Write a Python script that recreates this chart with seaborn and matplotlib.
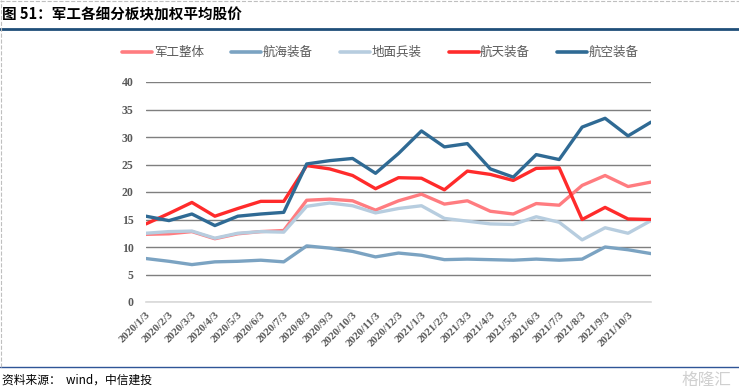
import pandas as pd
import matplotlib.pyplot as plt
import seaborn as sns
from matplotlib.lines import Line2D

# Data
dates = ["2020/1/3", "2020/2/3", "2020/3/3", "2020/4/3", "2020/5/3", "2020/6/3",
         "2020/7/3", "2020/8/3", "2020/9/3", "2020/10/3", "2020/11/3", "2020/12/3",
         "2021/1/3", "2021/2/3", "2021/3/3", "2021/4/3", "2021/5/3", "2021/6/3",
         "2021/7/3", "2021/8/3", "2021/9/3", "2021/10/3", "2021/11/3"]
jungong = [12.3, 12.4, 12.8, 11.5, 12.4, 12.8, 13.0, 18.5, 18.7, 18.4, 16.7, 18.4,
           19.6, 17.8, 18.4, 16.5, 16.0, 17.9, 17.6, 21.2, 23.0, 21.0, 21.8]
hanghai = [7.9, 7.4, 6.8, 7.3, 7.4, 7.6, 7.3, 10.2, 9.8, 9.2, 8.2, 8.9,
           8.5, 7.7, 7.8, 7.7, 7.6, 7.8, 7.6, 7.8, 10.0, 9.5, 8.8]
dimian = [12.5, 12.8, 12.9, 11.6, 12.5, 12.8, 12.7, 17.4, 18.0, 17.5, 16.2, 17.0,
          17.5, 15.2, 14.7, 14.2, 14.1, 15.5, 14.5, 11.3, 13.5, 12.5, 14.8]
hangtian = [14.2, 16.1, 18.1, 15.6, 17.0, 18.3, 18.3, 24.8, 24.2, 23.0, 20.6, 22.6,
            22.5, 20.4, 23.8, 23.2, 22.1, 24.3, 24.4, 15.0, 17.2, 15.1, 15.0]
hangkong = [15.6, 14.8, 16.0, 13.9, 15.6, 16.0, 16.3, 25.1, 25.7, 26.1, 23.4, 27.0,
            31.1, 28.2, 28.8, 24.2, 22.7, 26.8, 25.9, 31.8, 33.4, 30.2, 32.7]

names = ["军工整体", "航海装备", "地面兵装", "航天装备", "航空装备"]
colors = ["#FF7C80", "#7BA3C2", "#B7CDDF", "#FF2B2B", "#2F6A94"]
series = [jungong, hanghai, dimian, hangtian, hangkong]

rows = []
for name, vals in zip(names, series):
    for i, v in enumerate(vals):
        rows.append({"idx": i, "value": v, "series": name})
df = pd.DataFrame(rows)

sns.set_style("white")
plt.rcParams["font.family"] = ["Liberation Serif", "Noto Sans CJK SC", "DejaVu Sans"]

fig = plt.figure(figsize=(7.39, 3.90), dpi=100)
ax = fig.add_axes([146 / 739, 88 / 390, 505 / 739, 220 / 390])

sns.lineplot(data=df, x="idx", y="value", hue="series", hue_order=names,
             palette=dict(zip(names, colors)), linewidth=2.4, legend=False, ax=ax)

ax.set_xlim(0, len(dates) - 1)
ax.set_ylim(0, 40)
ax.set_yticks(range(0, 41, 5))
ax.set_xticks(range(len(dates) - 1))
ax.set_xticklabels(dates[:-1], rotation=45, ha="right", rotation_mode="anchor",
                   fontsize=8, fontweight="bold", color="#595959")
ax.tick_params(axis="y", labelsize=8.5, colors="#595959", length=0, pad=9)
ax.tick_params(axis="x", length=4, color="#D9D9D9", direction="out", pad=2)
for lab in ax.get_yticklabels():
    lab.set_fontweight("bold")
ax.grid(axis="y", color="#7F7F7F", linewidth=1)
ax.set_axisbelow(True)
for s in ["top", "right", "left"]:
    ax.spines[s].set_visible(False)
ax.spines["bottom"].set_color("#D9D9D9")
ax.spines["bottom"].set_linewidth(1.2)
ax.set_xlabel("")
ax.set_ylabel("")

# Legend
handles = [Line2D([0], [0], color=c, linewidth=2.6) for c in colors]
fig.legend(handles, names, loc="center", bbox_to_anchor=(0.515, 0.865), ncol=5,
           frameon=False, handlelength=2.4, columnspacing=2.2,
           handletextpad=0.1, prop={"family": ["Noto Sans CJK SC"], "size": 9})
for t in fig.legends[0].get_texts():
    t.set_color("#595959")

# Title, rules, source
fig.text(0.003, 0.962, "图 51：军工各细分板块加权平均股价", fontsize=10.5, fontweight="bold",
         family=["Noto Sans CJK SC"], va="center", ha="left", color="black")
fig.add_artist(Line2D([0, 1], [0.926, 0.926], color="#1F4E79", linewidth=2))
fig.add_artist(Line2D([0, 1], [0.058, 0.058], color="#2F5597", linewidth=1))
fig.add_artist(Line2D([0.001, 0.001], [0.06, 1], color="#BFBFBF", linewidth=0.8, linestyle="--"))
fig.add_artist(Line2D([0, 1], [0.998, 0.998], color="#BFBFBF", linewidth=0.8, linestyle="--"))
fig.text(0.003, 0.025, "资料来源：  wind，中信建投", fontsize=8.5, style="italic",
         family=["Noto Sans CJK SC"], va="center", ha="left", color="black")
fig.text(0.99, 0.025, "格隆汇", fontsize=12, family=["Noto Sans CJK SC"],
         va="center", ha="right", color="#D0D0D0")

fig.savefig("out.png", dpi=100)
